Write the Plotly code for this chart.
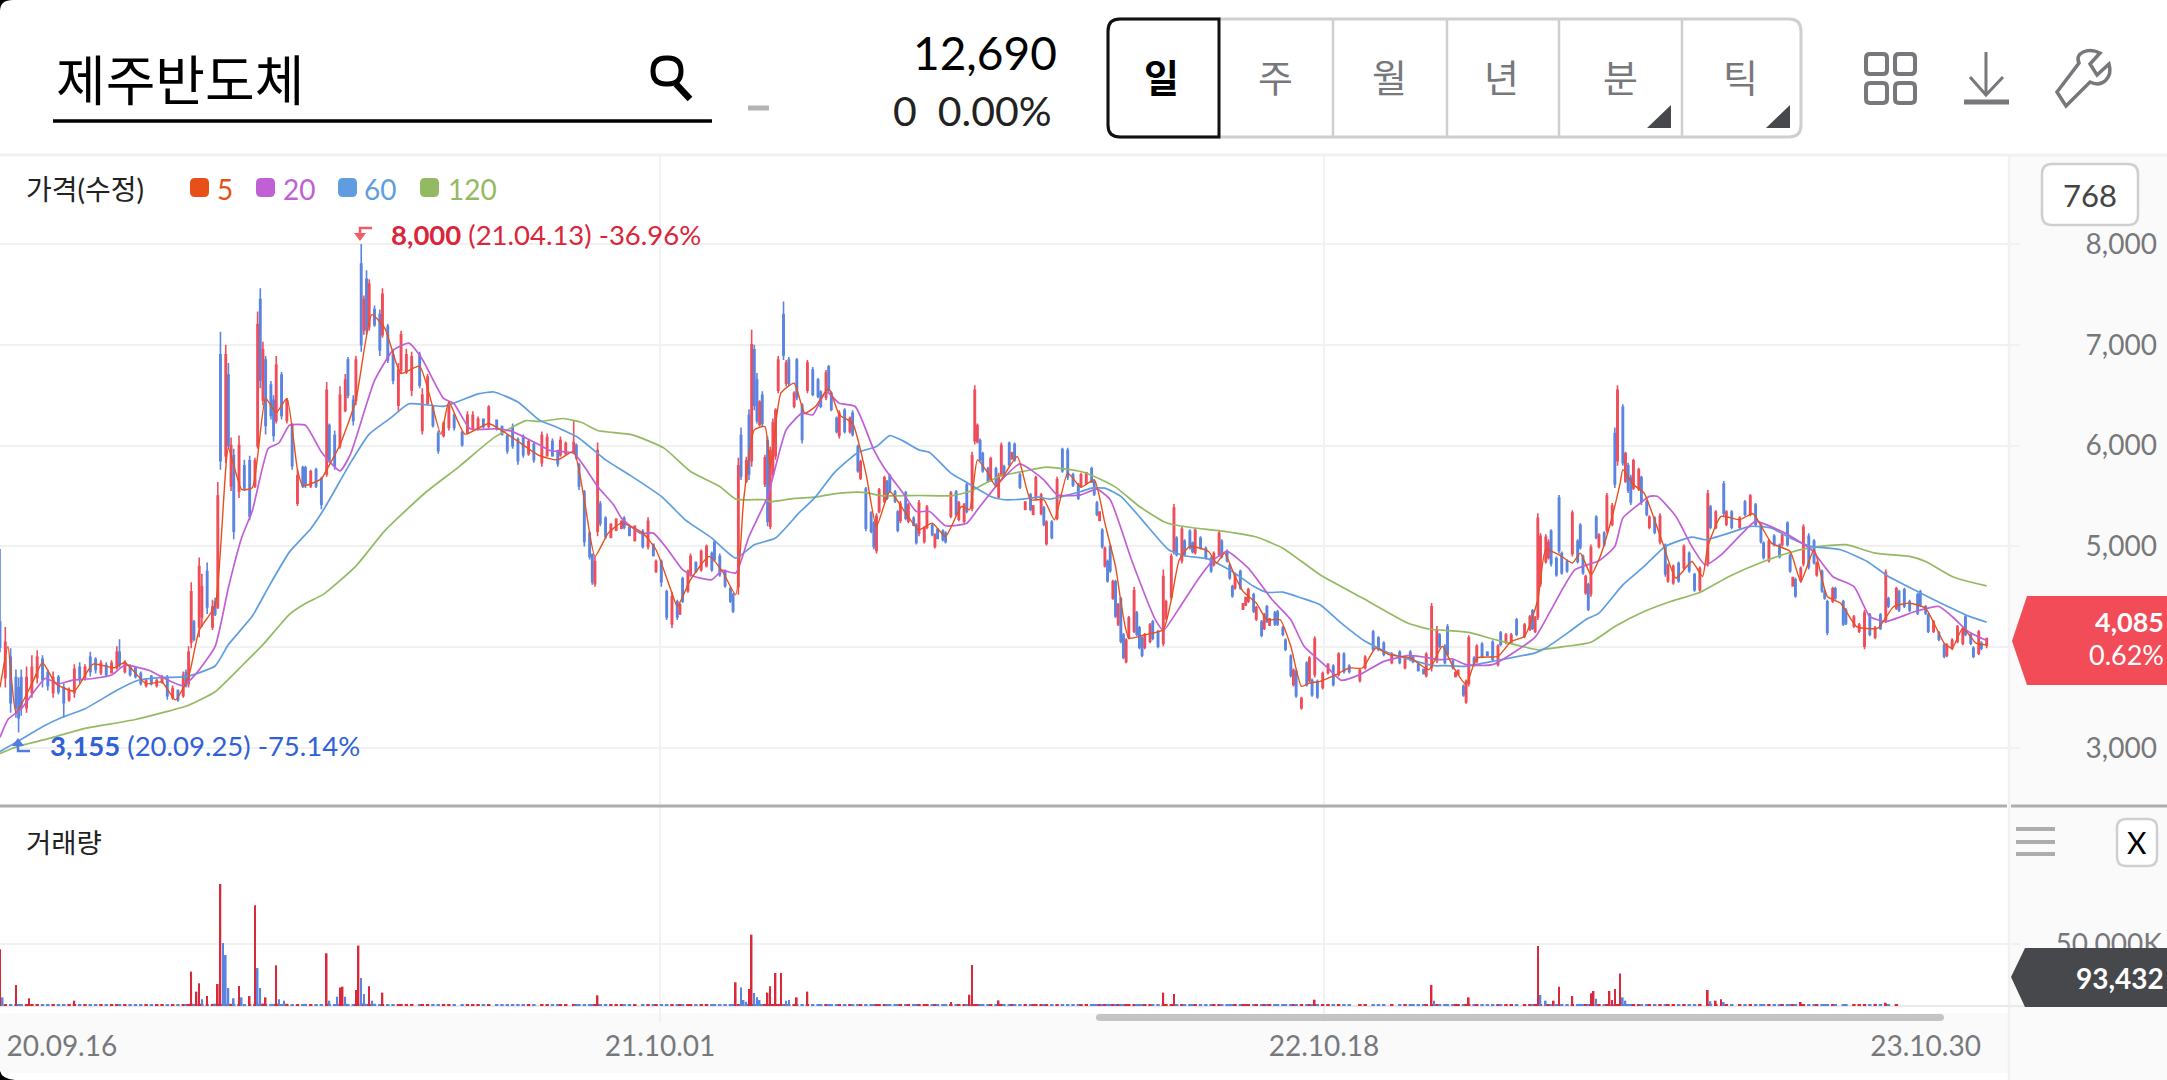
import re
import plotly.graph_objects as go

W, H = 2167, 1080

# one candle every bar or two (bar number, then won)
candle_bar = [
    0,2,4,6,7,8,10,12,14,16, 18,20,22,24,26,28,30,32,34,36,
    38,40,42,44,45,47,49,51,53,55, 57,59,61,63,65,67,69,70,71,72,
    73,75,76,78,80,81,82,83,85,86, 87,88,90,92,94,96,97,98,99,100,
    102,103,104,106,108,110,112,114,115,117, 119,121,123,124,126,128,130,131,133,134,
    136,137,138,139,141,143,144,146,148,150, 151,153,155,158,159,161,163,165,167,169,
    171,174,176,178,180,182,184,187,189,191, 193,195,197,199,201,
    204,206,208,210,211,213,216,217,218,220, 222,223,224,225,226,228,230,232,234,235,
    237,239,242,244,246,247,249,251,253,255, 256,257,259,260,262,264,266,268,269,271,
    273,275,276,278,279,281,282,283,284,285, 286,287,288,289,290,291,292,293,295,296,
    297,299,300,302,304,306,308,309,311,312, 313,315,316,318,320,321,323,324,326,328,
    329,330,331,333,334,335,337,338,339,341, 342,344,345,346,348,349,351,352,353,355,
    356,358,360,361,363,364,366,367,368,369, 370,372,373,375,376,377,378,380,381,382,
    384,386,388,389,390,392,393,394,396,398, 400,402,404,406,407,409,411,412,413,414,
    415,416,417,418,419,420,421,422,423,424, 425,427,428,429,430,431,433,434,436,438,
    439,441,442,443,445,446,448,449,450,452, 454,456,457,459,460,462,463,464,465,467,
    468,469,470,472,473,475,476,477,478,480, 481,483,484,486,487,488,490,492,493,494,
    495,496,498,500,502,504,506,508,512,514, 517,519,521,524,527,529,531,532,534,536,
    537,539,541,542,544,545,547,548,549,551, 552,553,555,556,558,560,562,564,565,567,
    569,571,574,576,577,578,579,580,582,583, 584,586,587,588,590,592,594,595,596,597,
    598,599,601,602,604,605,607,608,609,611, 612,613,614,615,617,618,620,621,623,625,
    627,628,630,632,634,636,638,640,643,644, 646,649,650,652,655,657,659,661,663,664,
    666,668,670,671,673,674,675,676,678,679, 681,683,684,686,687,688,690,691,694,695,
    698,700,702,704,706,708,710,711,714,715, 717,719,722,723,725,726,728,730,732,733,
    735,737,739,740,742,743,745,746,748,
]
candle_open = [
    4250,3700,3900,3700,3600,3700,3400,3550,3700,3880, 3750,3550,3700,3600,3480,3550,3800,3700,3900,3880,
    3750,3820,3750,3800,3950,3760,3810,3790,3740,3620, 3710,3620,3650,3700,3500,3570,3520,3750,3640,4050,
    4250,4200,4300,4750,4200,4450,4400,6900,5900,6700, 5600,5900,5550,5800,5850,5600,6000,7450,6450,6850,
    6600,6450,6250,6700,6250,6200,5430,5780,5780,5600, 5760,5670,5720,6200,6100,6000,6350,6850,6450,6450,
    7800,7150,7650,7180,7350,7300,7100,7180,6900,6400, 6750,6730,6550,6900,6150,6420,6380,6120,6100,6180,
    6300,6130,6130,6170,6170,6260,6190,6250,6190,6100, 6180,6060,6090,5920,6010,
    5830,5900,6040,5950,5910,5920,5950,6000,5810,5540, 5130,4920,4630,5150,5420,5280,5090,5160,5180,5280,
    5190,5060,5150,5000,5020,4750,4850,4550,4230,4450, 4330,4680,4560,4720,4840,4770,4810,4930,5040,4900,
    4750,4580,4520,4600,6100,5650,6300,5850,6950,6650, 6210,6500,5620,6050,5200,5720,5900,6550,7300,6620,
    6850,6390,6850,6400,6550,6750,6650,6530,6480,6780, 6520,6270,6100,6350,6140,6320,5990,5680,5570,5330,
    5230,4960,5350,5450,5640,5700,5540,5340,5260,5530, 5250,5280,5210,5130,5050,5190,5210,5000,5170,5150,
    5130,5300,5540,5270,5250,5610,5380,6050,6040,6050, 5920,5770,5660,5770,5490,5710,5790,6020,5870,6010,
    5710,5370,5510,5320,5480,5330,5380,5030,5240,5280, 5960,5950,5710,5610,5600,5630,5770,5640,5430,5260,
    5160,4810,4850,5000,4490,4650,4230,4480,4120,3860, 4100,4160,4340,4190,4090,4000,4060,4250,4150,4040,
    4290,4500,4950,5080,4860,5050,5150,5030,4940,5080, 4980,4880,4820,4920,5050,4950,4810,4600,4590,4750,
    4380,4420,4460,4520,4280,4250,4190,4400,4220,4340, 4350,4190,4070,3910,3630,3760,3400,3840,3670,3670,
    3730,3660,3600,3750,3810,3730,3930,3810,3670,3800, 4150,4090,4040,3850,3950,3800,3950,3900,3830,3780,
    3720,3800,3870,4120,4010,4200,3860,3710,3730,3610, 3460,3640,3890,3860,4030,3950,4050,3830,4140,4050,
    4050,4270,4110,4180,4360,4160,4300,4630,4850,4890, 5150,4880,5480,4930,4850,4930,5050,5210,4900,4540,
    4620,4530,5290,5000,5130,5160,5220,6120,5850,6380, 5650,5800,5680,5580,5570,5680,5440,5190,5280,5050,
    5010,4660,4640,4830,4790,4930,4720,4570,4830,5390, 5190,5620,5220,5340,5190,5440,5320,5410,5210,5030,
    4860,5100,5010,5020,5230,4910,4610,4670,4660,4830, 5100,5050,4720,4750,4550,4450,4460,4580,4450,4370,
    4210,4160,4010,4320,4100,4320,4270,4480,4390,4550, 4570,4450,4520,4550,4400,4320,4160,4140,4020,3920,
    3990,4060,4040,4300,4120,3990,3940,4040,4020,
]
candle_high = [
    4975,4200,3990,3780,3700,3780,3810,3920,3970,3920, 3780,3760,3725,3640,3600,3830,3850,3830,3955,3900,
    3870,3850,3870,4010,4080,3870,3830,3810,3760,3690, 3725,3690,3725,3725,3620,3580,3760,3780,4010,4645,
    4270,4890,4730,4840,4470,4490,5640,7130,7000,6820, 6080,5970,6100,5860,5900,5880,7330,7560,7030,6890,
    6640,6500,6890,6730,6470,6220,5760,5800,5800,5760, 5780,5690,6630,6220,6150,6590,6710,6880,6500,6890,
    8000,7490,7740,7650,7390,7350,7560,7210,6960,6820, 7140,6960,6930,6930,6570,6710,6400,6150,6240,6430,
    6320,6150,6340,6340,6290,6270,6400,6260,6200,6110, 6220,6080,6110,6060,6040,
    6140,6120,6070,5960,6090,6040,6250,6020,5830,5560, 5150,4930,4900,6030,5450,5300,5230,5280,5260,5300,
    5200,5210,5170,5290,5030,4870,4870,4570,4550,4470, 4440,4700,4770,4930,4850,4970,5020,4950,5060,4930,
    4770,4600,4540,5880,6180,5890,6360,7150,7000,6720, 6450,6540,5910,6090,5990,6270,6370,6890,7430,6850,
    6880,6540,6870,6420,6850,6780,6670,6550,6750,6800, 6540,6290,6350,6370,6290,6350,6010,5860,5590,5350,
    5250,5330,5580,5700,5660,5720,5560,5360,5450,5550, 5430,5300,5230,5460,5200,5410,5230,5130,5180,5170,
    5150,5550,5560,5450,5430,5630,5940,6600,6220,6070, 5940,5790,5890,5790,5730,6030,5810,6040,5940,6030,
    5730,5450,5530,5410,5700,5530,5400,5260,5260,5690, 5980,5980,5730,5630,5730,5740,5790,5660,5450,5350,
    5180,5000,4870,5020,4670,4670,4440,4500,4140,4090, 4310,4600,4360,4210,4110,4140,4240,4270,4170,4770,
    4470,4930,5420,5100,5200,5070,5170,5050,5180,5100, 5000,4900,4950,5150,5070,4970,4830,4620,4740,4770,
    4440,4500,4590,4540,4410,4270,4340,4420,4290,4360, 4370,4210,4090,3930,3790,3780,3510,3860,3910,3690,
    4110,3680,3760,3840,3830,3950,3950,3830,3790,3920, 4170,4110,4060,3950,3970,3900,3970,3920,3840,3790,
    3950,4440,4210,4140,4030,4230,3880,3760,3780,3630, 3680,4120,3910,4030,4050,3960,4070,4030,4160,4140,
    4140,4290,4240,4320,4380,4310,5330,5130,5120,5070, 5170,4900,5510,4950,4870,5360,5070,5230,4920,4720,
    4640,5020,5310,5130,5150,5530,5430,6180,6600,6410, 5940,5830,5710,5870,5780,5700,5460,5310,5300,5330,
    5030,4830,4820,4850,5020,4950,4740,4800,5560,5410, 5360,5650,5360,5360,5300,5460,5520,5430,5230,5050,
    5070,5120,5030,5130,5250,4930,4700,4690,4800,5220, 5130,5070,4850,4770,4570,4470,4600,4600,4470,4390,
    4320,4240,4370,4340,4210,4340,4770,4500,4600,4570, 4590,4470,4540,4570,4420,4340,4270,4160,4040,4040,
    4090,4220,4200,4320,4140,4010,4170,4060,4090,
]
candle_low = [
    3950,3600,3350,3300,3155,3320,3350,3500,3640,3600, 3570,3500,3530,3300,3460,3500,3640,3670,3710,3740,
    3725,3710,3740,3780,3800,3740,3710,3690,3620,3600, 3620,3600,3640,3480,3480,3460,3500,3600,3600,3990,
    4060,4100,4200,4330,4170,4310,4380,5760,5830,5970, 5550,5070,5480,5550,5260,5580,5970,6570,6400,6110,
    6260,6040,6220,6260,6220,5760,5400,5580,5580,5580, 5580,5370,5690,5830,5760,5970,6330,6470,6200,6400,
    6930,7100,7100,7140,7180,6890,7070,6820,6610,6330, 6710,6710,6490,6570,6110,6400,6180,5920,6080,6150,
    6150,5990,6110,6150,6150,6170,6170,6150,6100,5920, 5970,5810,5880,5900,5830,
    5790,5890,5890,5790,5890,5910,5920,5860,5560,5000, 4870,4620,4600,5100,5200,5070,5080,5150,5170,5170,
    5100,5050,4980,4970,4900,4740,4600,4270,4190,4270, 4320,4440,4540,4700,4740,4750,4790,4750,4850,4700,
    4590,4440,4340,4520,5660,5630,5660,5790,6350,6220, 6190,6190,5590,5200,5170,5690,5860,6520,6850,6590,
    6590,6370,6450,6020,6520,6490,6470,6370,6450,6520, 6340,6120,6070,6120,6120,6090,5730,5660,5150,5130,
    4970,4930,5330,5430,5460,5530,5430,5140,5230,5260, 5230,5200,5020,5100,5030,5170,5100,4980,5070,5050,
    5030,5280,5300,5250,5230,5330,5350,6010,6020,5840, 5730,5630,5640,5590,5470,5690,5690,5790,5860,5840,
    5570,5360,5350,5310,5460,5310,5200,5010,5070,5260, 5730,5660,5590,5460,5580,5610,5630,5500,5300,5250,
    4980,4790,4640,4740,4470,4290,4210,4040,3880,3840, 4080,4140,4110,3980,3900,3980,4040,4070,3990,4010,
    4270,4470,4920,4900,4830,4900,4970,4930,4920,4970, 4870,4740,4800,4900,4880,4840,4670,4490,4570,4570,
    4370,4410,4440,4340,4260,4100,4170,4240,4210,4210, 4210,4110,3960,3700,3610,3500,3380,3610,3650,3510,
    3700,3490,3580,3730,3610,3710,3740,3740,3650,3780, 3960,3960,3910,3830,3830,3780,3860,3840,3760,3730,
    3700,3760,3840,3990,3830,3910,3780,3700,3720,3510, 3440,3610,3810,3840,3890,3910,3860,3810,4010,4030,
    4030,4110,4090,4160,4170,4140,4270,4600,4830,4870, 4800,4700,4930,4720,4740,4900,4830,4970,4720,4520,
    4360,4500,5070,4980,5000,5130,5200,5580,5800,5800, 5630,5530,5410,5560,5550,5410,5300,5170,5120,5020,
    4700,4640,4620,4640,4770,4740,4550,4550,4800,5170, 5170,5300,5200,5170,5170,5300,5300,5200,5030,4870,
    4840,5000,4880,5000,5000,4740,4600,4490,4640,4800, 4770,4820,4700,4540,4470,4120,4440,4470,4210,4220,
    4190,4140,3980,4110,4080,4170,4240,4390,4370,4350, 4390,4350,4320,4400,4320,4140,4140,4060,3890,3900,
    3970,4040,4020,4110,4020,3890,3920,3970,3990,
]
candle_close = [
    4000,4050,3450,3400,3300,3400,3700,3800,3900,3680, 3620,3700,3560,3450,3570,3780,3680,3800,3760,3780,
    3840,3730,3840,3950,3830,3850,3730,3710,3640,3670, 3640,3670,3700,3520,3590,3480,3720,3620,3950,4550,
    4080,4800,4600,4400,4400,4330,5500,5850,6900,6000, 6000,5150,6000,5580,5300,5850,7200,6650,6950,6200,
    6300,6100,6800,6300,6450,5800,5700,5600,5620,5740, 5600,5420,6550,5850,5800,6500,6650,6500,6250,6850,
    7000,7450,7150,7600,7200,6950,7500,6850,6650,6750, 7100,6900,6880,6600,6500,6680,6200,5950,6220,6400,
    6180,6010,6300,6300,6260,6190,6380,6170,6110,5950, 6000,5850,5910,6040,5860,
    6100,6080,5900,5820,6050,6020,6030,5880,5600,5050, 4900,4650,4850,5950,5230,5100,5220,5270,5250,5190,
    5110,5200,5000,5250,4910,4850,4650,4300,4500,4300, 4420,4460,4750,4900,4750,4950,5000,4770,4870,4720,
    4610,4460,4360,5800,5700,5850,5720,7000,6400,6250, 6430,6220,5880,5250,5950,6230,6350,6850,6900,6820,
    6620,6520,6480,6060,6820,6510,6490,6390,6720,6550, 6360,6140,6320,6140,6270,6110,5750,5840,5180,5150,
    5000,5300,5560,5680,5480,5550,5450,5160,5420,5280, 5410,5210,5040,5430,5180,5390,5120,5110,5080,5070,
    5050,5530,5320,5430,5410,5350,5900,6550,6200,5860, 5750,5650,5870,5610,5700,6000,5710,5810,5930,5860,
    5590,5440,5370,5400,5680,5510,5220,5240,5090,5660, 5750,5690,5610,5480,5710,5730,5640,5520,5320,5340,
    5000,4980,4660,4760,4650,4310,4420,4060,3900,4070, 4290,4560,4130,4000,3920,4120,4220,4090,4010,4700,
    4450,4900,5380,4920,5170,4920,4990,4950,5160,4990, 4890,4760,4930,5130,4900,4860,4690,4510,4720,4590,
    4430,4490,4570,4360,4390,4120,4320,4260,4280,4230, 4230,4130,3980,3720,3770,3520,3490,3630,3890,3530,
    4080,3510,3740,3830,3630,3930,3760,3760,3770,3900, 3980,3980,3930,3930,3850,3880,3880,3860,3770,3740,
    3930,4400,4170,4010,3850,3930,3800,3750,3770,3530, 3660,4090,3830,4010,3910,3920,3880,4010,4030,4120,
    4120,4130,4220,4300,4190,4290,5280,5100,5090,5040, 4830,4720,4960,4740,4760,5330,4850,4990,4740,4700,
    4380,4990,5090,5110,5020,5500,5400,5620,6550,5830, 5920,5560,5440,5850,5760,5440,5320,5290,5140,5300,
    4730,4810,4800,4660,5000,4760,4570,4780,5520,5190, 5340,5330,5340,5190,5280,5320,5500,5220,5050,4890,
    5050,5020,4900,5110,5020,4760,4690,4510,4780,5190, 4800,4840,4830,4560,4490,4150,4580,4490,4230,4240,
    4300,4220,4340,4130,4190,4190,4740,4410,4580,4370, 4410,4370,4340,4420,4340,4160,4250,4080,3910,4020,
    4070,4200,4180,4130,4040,3910,4150,3990,4085,
]

# moving averages, read at the bends of each line
ma5_bar = [0,3,6,12,16,21,28,35,43,47,55,61,66,71,75,81,86,91,95,100,104,108,112,114,121,123,128,134,140,145,151,158,166,169,175,184,189,195,203,
    210,216,220,224,229,234,242,247,253,255,260,267,272,277,280,284,288,290,294,299,303,307,312,316,321,326,330,335,341,346,351,356,362,365,368,372,375,383,388,393,397,402,407,
    412,416,420,425,431,438,441,444,448,455,458,461,465,468,473,477,482,486,490,493,497,503,508,513,518,523,531,538,543,547,552,556,564,569,574,579,582,587,592,595,599,602,606,610,
    611,615,619,626,631,637,641,643,648,655,660,667,674,678,683,688,693,699,707,713,719,725,732,735,739,744,748]
ma5_val = [3602,4008,3354,3637,3849,3637,3566,3832,3796,3849,3637,3655,3478,3708,4168,4415,5972,5565,5583,6468,6326,6468,5760,5601,5672,5760,6008,6450,7299,7158,6716,6787,6114,6432,6114,6220,6149,6043,5902,
    5859,5942,5463,4901,5132,5231,5132,4967,4537,4405,4670,4901,4752,4521,5463,6156,6189,5776,6520,6619,6322,6388,6569,6305,6222,5727,5198,5545,5330,5165,5231,5099,5396,5363,5859,5727,5595,5892,5463,5463,5264,5727,5588,
    5661,5231,4802,4091,4124,4174,4471,4868,5000,4950,4835,4934,4703,4554,4438,4273,4273,4009,3612,3645,3662,3728,3794,3794,3992,3926,3893,3778,4009,3811,3629,3893,3910,4058,4108,4471,4967,4917,4835,4934,4719,4868,5198,5628,
    5762,5612,5530,5033,4685,4851,4702,5000,5298,5265,5324,5033,4950,4652,4967,4503,4437,4205,4189,4404,4437,4387,4040,3990,4189,4040,4023]
ma20_bar = [0,3,8,13,17,22,27,35,42,47,56,62,69,74,81,86,91,95,101,105,109,115,121,128,132,141,148,154,159,167,171,177,187,193,203,
    207,216,220,225,231,234,241,246,251,257,262,268,272,277,282,289,296,302,306,311,316,322,329,333,340,345,350,356,364,368,376,384,393,398,407,
    413,418,426,435,438,444,451,457,462,470,479,486,491,500,505,512,521,530,536,542,547,552,562,578,583,593,602,608,
    611,616,621,624,631,637,642,648,656,661,672,682,690,698,704,710,721,730,735,741,748]
ma20_val = [3106,3283,3389,3566,3690,3637,3672,3690,3725,3821,3771,3690,3619,3743,4008,4592,5088,5353,5972,6026,6202,6202,5937,5750,5919,6645,6946,7016,6857,6468,6415,6167,6167,6139,6008,
    5952,5925,5793,5595,5413,5281,5132,5132,4983,4769,4696,4670,4762,4736,5099,5496,6156,6322,6305,6536,6421,6388,5958,5776,5529,5347,5347,5205,5231,5363,5628,5819,5661,5512,5512,
    5568,5463,4868,4273,4167,4389,4670,4868,4950,4785,4471,4273,4009,3794,3672,3728,3860,3916,3903,3877,3883,3827,3827,4101,4323,4769,4858,5000,
    5281,5397,5497,5497,5298,5000,4818,4917,5132,5248,5132,4967,4702,4603,4305,4255,4354,4404,4305,4156,4066]
ma60_bar = [0,7,16,23,32,44,52,61,70,81,86,95,101,109,117,122,132,139,147,154,167,180,186,195,203,
    209,218,228,237,249,258,268,277,284,292,301,307,314,323,330,335,340,346,350,358,364,373,378,385,391,395,407,
    411,416,422,430,440,446,455,464,472,477,483,490,497,505,514,523,531,540,544,552,562,578,582,591,597,602,
    611,619,627,637,642,651,659,667,674,682,693,703,711,722,732,741,748]
ma60_val = [2965,3071,3212,3301,3389,3573,3672,3700,3708,3814,4026,4309,4592,4946,5176,5371,5831,6114,6273,6415,6390,6514,6532,6432,6255,
    6189,6074,5859,5710,5496,5264,5083,4884,5017,5083,5337,5489,5727,5932,5991,6100,6047,5958,5932,5727,5634,5496,5463,5469,5489,5469,5545,
    5578,5578,5496,5264,4967,4907,4874,4752,4604,4544,4547,4488,4422,4240,4059,3943,3877,3817,3817,3811,3860,3944,3992,4157,4273,4339,
    4619,4801,5000,5093,5066,5132,5199,5182,5083,5000,4967,4851,4702,4553,4421,4311,4248]
ma120_bar = [0,7,20,32,51,71,81,91,99,109,115,122,134,145,160,173,186,198,203,
    212,219,225,238,250,260,271,277,288,290,299,307,314,323,327,332,346,358,365,376,385,394,407,
    412,420,429,438,442,449,461,473,483,497,513,530,538,553,562,573,579,
    589,599,608,619,629,640,651,664,674,683,695,706,719,725,735,741,748]
ma120_val = [2947,3018,3106,3195,3283,3425,3559,3814,4026,4327,4433,4529,4805,5159,5530,5795,6079,6248,6238,
    6269,6229,6150,6107,5975,5743,5595,5469,5463,5443,5476,5489,5522,5539,5529,5502,5505,5502,5545,5694,5743,5786,5743,
    5694,5588,5396,5248,5215,5185,5149,5093,4983,4719,4488,4240,4181,4148,4082,4009,3974,
    4007,4050,4205,4354,4454,4543,4702,4851,4940,4993,5017,4934,4901,4851,4702,4652,4609]

# daily volume in thousands: the low band under the chart, one value per candle
vol_small = [
    1600,1500,1300,1400,1500,1300,1200,1500,1400,1300, 1200,1500,1300,1100,1400,1500,1200,1300,1400,1200,
    1300,1500,1100,1300,1400,1200,1300,1500,1100,1400, 1200,1300,1400,1500,1200,1300,1100,1400,1500,1900,
    1600,1800,1700,1500,1400,1900,1800,1700,1600,1900, 1700,1800,1600,1400,1500,1800,1700,1600,1900,1800,
    1700,1500,1900,1600,1800,1400,1500,1300,1700,1600, 1400,1500,1900,1700,1600,1800,1500,1700,1600,1400,
    1800,1900,1500,1700,1800,1600,1400,1500,1300,1600, 1200,1400,1500,1300,1200,1400,1500,1100,1300,1400,
    1200,1300,1500,1100,1200,1300,1400,1100,1200,1300, 1400,1200,1100,1300,1500,
    1300,1200,1400,1100,1300,1200,1400,1500,1200,1300, 1300,1500,1100,1400,1300,1200,1400,1300,1100,1200,
    1400,1300,1100,1200,1400,1300,1200,1500,1300,1100, 1200,1400,1300,1100,1300,1200,1400,1500,1100,1300,
    1200,1400,1300,1100,1500,1300,1200,1400,1300,1500, 1400,1300,1500,1200,1400,1300,1500,1400,1300,1200,
    1400,1500,1300,1200,1400,1100,1300,1500,1200,1400, 1300,1100,1400,1200,1500,1300,1100,1400,1300,1200,
    1400,1300,1500,1100,1200,1400,1300,1100,1500,1200, 1300,1400,1100,1200,1500,1300,1400,1100,1200,1300,
    1400,1100,1300,1500,1200,1300,1400,1100,1300,1200, 1500,1400,1100,1300,1200,1400,1500,1300,1100,1200,
    1400,1300,1100,1500,1200,1400,1300,1100,1200,1400, 1300,1500,1200,1100,1400,1300,1200,1500,1100,1300,
    1200,1400,1300,1100,1500,1200,1300,1400,1100,1200, 1300,1400,1200,1100,1500,1300,1200,1400,1300,1100,
    1200,1500,1400,1300,1100,1200,1400,1300,1500,1100, 1300,1200,1400,1100,1200,1500,1300,1400,1100,1200,
    1300,1500,1100,1200,1400,1300,1100,1200,1400,1300, 1500,1100,1200,1400,1300,1200,1100,1400,1300,1200,
    1500,1300,1100,1200,1400,1300,1200,1100,1500,1400, 1200,1300,1100,1400,1200,1500,1100,1300,1200,1400,
    1300,1100,1500,1200,1400,1300,1500,1700,1500,1400, 1700,1300,1500,1400,1600,1300,1500,1400,1500,1300,
    1500,1400,1600,1300,1200,1500,1300,1400,1200,1300, 1400,1300,1100,1200,1400,1500,1300,1100,1200,1400,
    1300,1500,1100,1200,1400,1300,1100,1200,1500,1300, 1200,1400,1100,1300,1200,1500,1100,1300,1400,1200,
    1300,1200,1400,1100,1500,1300,1200,1400,1100,1300, 1200,1400,1500,1100,1300,1200,1400,1100,1300,1500,
    1200,1300,1100,1400,1200,1500,1300,1100,1400,1200, 1300,1500,1100,1200,1400,1300,1100,1200,1400,1300,
    1200,1400,1100,1300,1500,1200,1100,1300,1400,
]
# the spikes that stand out of that band
spike_up_bar = [0,6,11,28,72,74,75,78,82,83,90,94,96,100,104,123,128,129,134,135,139,144,225,277,282,283,289,290,292,294,300,304,358,365,366,376,438,442,495,539,553,579,585,587,592,599,600,606,607,608,610,643,646,648,678,710]
spike_up_vol = [45700,17000,6200,4300,27700,11600,18300,8000,17700,98400,16100,8000,81200,7000,32800,42500,15000,15600,12900,48700,15900,10800,8600,19100,13700,57500,10800,15900,26600,26600,7000,11600,3200,9100,33000,4500,10800,9700,5100,17000,7000,48400,4300,15600,8100,10200,12100,12100,4800,13700,26300,12900,4300,5400,3200,2700]
spike_dn_bar = [1,76,84,85,86,88,91,97,98,105,107,124,127,130,136,137,140,279,280,281,284,285,286,296,297,540,580,582,601,611,612,644,649]
spike_dn_vol = [7000,5400,50800,41100,14500,6200,7000,30600,14500,5400,4300,4300,7500,7500,22600,9700,4300,15000,4800,3400,10500,7000,4800,4300,4800,4300,8900,4300,5900,7000,4300,3800,3200]

price_ticks = [3000, 4000, 5000, 6000, 7000, 8000]
date_ticks = [23.3, 248.5, 498.5, 725]
date_labels = ["20.09.16", "21.10.01", "22.10.18", "23.10.30"]
tab_labels = ["일", "주", "월", "년", "분", "틱"]
ma_names = ["5", "20", "60", "120"]

UP, DOWN = "#ef4d5a", "#5a84e0"
MA_COLORS = ["#e8501a", "#c060d4", "#5f9de0", "#93ba62"]
GRID = "#f1f1f1"
GREY = "#77787b"
DARK = "#47484c"
FONT = "Lato, 'Noto Sans CJK KR', sans-serif"

fig = go.Figure()
fig.add_trace(go.Candlestick(x=candle_bar, open=candle_open, high=candle_high, low=candle_low, close=candle_close,
    increasing=dict(line=dict(color=UP, width=1.6), fillcolor=UP),
    decreasing=dict(line=dict(color=DOWN, width=1.6), fillcolor=DOWN),
    whiskerwidth=0, xaxis="x", yaxis="y"))
for bars, vals, col, lw in [(ma120_bar, ma120_val, MA_COLORS[3], 1.7), (ma60_bar, ma60_val, MA_COLORS[2], 1.7),
                            (ma20_bar, ma20_val, MA_COLORS[1], 1.7), (ma5_bar, ma5_val, MA_COLORS[0], 1.4)]:
    fig.add_trace(go.Scatter(x=bars, y=vals, mode="lines", xaxis="x", yaxis="y",
        line=dict(color=col, width=lw, shape="spline", smoothing=0.5)))

small_cols = ["#d8283a" if c >= o else DOWN for o, c in zip(candle_open, candle_close)]
fig.add_trace(go.Bar(x=candle_bar, y=vol_small, marker=dict(color=small_cols, line_width=0), width=1.3, xaxis="x2", yaxis="y2"))
fig.add_trace(go.Bar(x=spike_dn_bar, y=spike_dn_vol, marker=dict(color=DOWN, line_width=0), width=0.62, xaxis="x2", yaxis="y2"))
fig.add_trace(go.Bar(x=spike_up_bar, y=spike_up_vol, marker=dict(color="#d8283a", line_width=0), width=0.62, xaxis="x2", yaxis="y2"))


def px(x):
    return x / W


def py(y):
    return 1 - y / H


def path(d):
    # pixel path from the top-left corner of the page, turned into paper units
    out, is_x = [], True
    for tok in re.findall(r"[A-Za-z]|-?\d+\.?\d*", d):
        if tok.isalpha():
            out.append(tok)
            is_x = True
        else:
            out.append(f"{px(float(tok)) if is_x else py(float(tok)):.5f}")
            is_x = not is_x
    return " ".join(out)


def rounded(x0, y0, x1, y1, r):
    return (f"M{x0+r},{y0} L{x1-r},{y0} Q{x1},{y0} {x1},{y0+r} L{x1},{y1-r} Q{x1},{y1} {x1-r},{y1} "
            f"L{x0+r},{y1} Q{x0},{y1} {x0},{y1-r} L{x0},{y0+r} Q{x0},{y0} {x0+r},{y0} Z")


shapes = []


def draw(d, stroke=None, width=0, fill=None, layer="above"):
    shapes.append(dict(type="path", path=path(d), xref="paper", yref="paper", layer=layer,
                       line=dict(color=stroke or "rgba(0,0,0,0)", width=width), fillcolor=fill or "rgba(0,0,0,0)"))


# panels behind the plot
draw("M2009,155 L2167,155 L2167,1080 L2009,1080 Z", fill="#fafafa", layer="below")
draw("M0,1013 L2009,1013 L2009,1073 L0,1073 Z", fill="#fafafa", layer="below")
draw("M0,155 L2167,155", GRID, 3, layer="below")
draw("M2009,155 L2009,1080", GRID, 2.5, layer="below")
draw("M0,1006 L2030,1006", "#e9e9e9", 2, layer="below")
for bar in date_ticks[1:3]:
    shapes.append(dict(type="line", xref="x", yref="paper", x0=bar, x1=bar, y0=py(155), y1=py(1022),
                       line=dict(color=GRID, width=2), layer="below"))
draw("M0,806 L2007,806 M2011,806 L2167,806", "#adadad", 3, layer="below")

# header
draw("M53,121 L712,121", "black", 3.5)
draw("M676,84 L690,99", "black", 6.5)
draw(rounded(653, 58, 681, 84, 13), "black", 5)
draw("M748,108 L769,108", "#b3b3b3", 5)
draw(rounded(1108, 19, 1801, 137, 12), "#cfcfcf", 3)
for x in [1333, 1447, 1559, 1682]:
    draw(f"M{x},20 L{x},136", "#cfcfcf", 2.5)
draw("M1219,19 L1120,19 Q1108,19 1108,31 L1108,125 Q1108,137 1120,137 L1219,137 Z", "#111111", 3)
draw("M1671,105 L1671,128 L1647,128 Z", fill=DARK)
draw("M1790,105 L1790,128 L1766,128 Z", fill=DARK)
draw(rounded(1866, 54, 1887, 74, 4), GREY, 4)
draw(rounded(1895, 54, 1915, 74, 4), GREY, 4)
draw(rounded(1866, 83, 1887, 103, 4), GREY, 4)
draw(rounded(1895, 83, 1915, 103, 4), GREY, 4)
draw("M1986,52 L1986,95 M1970,77 L1986,95 L2003,77", GREY, 3)
draw("M1964,102 L2009,102", GREY, 5)
draw("M2057,92 L2079,63 C2074,53 2088,47 2100,53 L2090,64 L2097,75 L2109,64 C2113,78 2102,88 2090,82 L2066,106 Z", GREY, 3.5)

# legend chips and high/low arrows
for x0, col in zip([190, 256, 338, 420], MA_COLORS):
    draw(rounded(x0, 178, x0 + 19, 197, 5), fill=col)
draw("M372,228 L360,228 L360,239", "#f05c68", 2.5)
draw("M354,233 L366,233 L360,241 Z", fill="#f05c68")
draw("M30,751 L18,751 L18,741", "#4f7de0", 2.5)
draw("M12,746 L24,746 L18,738 Z", fill="#4f7de0")

# right hand side
draw(rounded(2042, 164, 2138, 225, 10), "#cfcfcf", 2.5, "white")
for y in [829, 842, 854]:
    draw(f"M2016,{y} L2055,{y}", "#adadad", 4)
draw(rounded(2117, 819, 2157, 866, 9), "#cfcfcf", 2.5, "white")
draw(rounded(1096, 1014, 1944, 1021, 3.5), fill="#c4c4c4")
draw("M2012,641 L2027,596 L2167,596 L2167,685 L2027,685 Z", fill="#f24c58")
draw("M2011,977 L2025,948 L2167,948 L2167,1007 L2025,1007 Z", fill=DARK)

# screen corners
draw("M0,0 L13,0 Q0,0 0,11 Z", fill="black")
draw("M0,1071 Q2,1079 15,1080 L0,1080 Z", fill="black")

annotations = []


def label(x, y, text, size, color="black", anchor="center"):
    annotations.append(dict(x=px(x), y=py(y), xref="paper", yref="paper", text=text, showarrow=False, xanchor=anchor,
                            yanchor="middle", font=dict(family=FONT, size=size, color=color), borderpad=0))


label(55, 80, "제주반도체", 54, anchor="left")
label(1058, 53, "12,690", 46, anchor="right")
label(1053, 110, "0&nbsp;&nbsp;0.00%", 41, "#222222", anchor="right")
label(1161, 77, "<b>일</b>", 38)
for x, t in zip([1275, 1389, 1501, 1620, 1740], tab_labels[1:]):
    label(x, 77, t, 38, GREY)
label(25, 189, "가격(수정)", 28, "#222222", anchor="left")
for x, t, col in zip([216, 282, 363, 447], ma_names, MA_COLORS):
    label(x, 189, t, 28, col, anchor="left")
label(390, 234, "<b>8,000</b> (21.04.13) -36.96%", 27.5, "#d9263a", anchor="left")
label(49, 745, "<b>3,155</b> (20.09.25) -75.14%", 27.5, "#2f60d8", anchor="left")
label(2090, 195, "768", 31, "#444444")
label(25, 842, "거래량", 27.5, "#222222", anchor="left")
label(2137, 842, "X", 30, "black")
label(2165, 621, "<b>4,085</b>", 27, "white", anchor="right")
label(2165, 654, "0.62%", 27, "white", anchor="right")
label(2165, 978, "<b>93,432</b>", 28, "white", anchor="right")

x_end = 2009 / W
fig.update_layout(
    width=W, height=H, margin=dict(l=0, r=0, t=0, b=0), autosize=False,
    paper_bgcolor="white", plot_bgcolor="rgba(0,0,0,0)", showlegend=False, barmode="overlay",
    hovermode=False, font=dict(family=FONT), shapes=shapes, annotations=annotations,
    xaxis=dict(domain=[0, x_end], range=[0, 756.4], anchor="y", showgrid=False, zeroline=False, showticklabels=False,
               ticks="", rangeslider=dict(visible=False)),
    yaxis=dict(domain=[py(806), py(155)], range=[2425, 8883], side="right", anchor="x", tickvals=price_ticks,
               tickformat=",d", showgrid=True, gridcolor=GRID, gridwidth=2, zeroline=False, ticks="outside",
               ticklen=10, tickwidth=2, tickcolor=GRID, ticklabelstandoff=60,
               tickfont=dict(family=FONT, size=28, color=GREY)),
    xaxis2=dict(domain=[0, x_end], range=[0, 756.4], anchor="y2", matches="x", showgrid=False, zeroline=False,
                ticks="", tickvals=date_ticks, ticktext=date_labels, ticklabelstandoff=21,
                tickfont=dict(family=FONT, size=28, color=GREY)),
    yaxis2=dict(domain=[py(1006), py(807)], range=[0, 160484], side="right", anchor="x2", tickvals=[50000],
                ticktext=["50,000K"], showgrid=True, gridcolor=GRID, gridwidth=2, zeroline=False, ticks="outside",
                ticklen=10, tickwidth=2, tickcolor=GRID, ticklabelstandoff=30,
                tickfont=dict(family=FONT, size=28, color=GREY)),
)

fig.write_html("out.html", config=dict(displayModeBar=False),
               post_script="document.body.style.margin='0';document.documentElement.style.overflow='hidden';")
